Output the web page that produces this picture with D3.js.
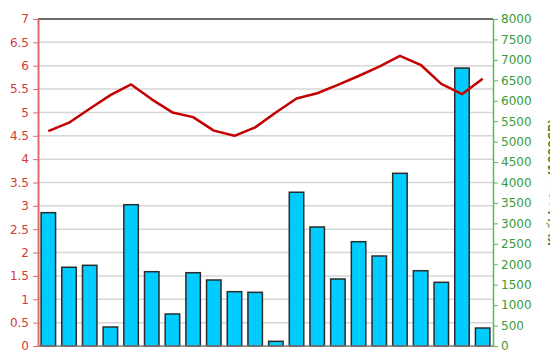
<!DOCTYPE html>
<html>
<head>
<meta charset="utf-8">
<script src="https://cdn.jsdelivr.net/npm/d3@7"></script>
<style>
    body { margin: 0; background: #fff; }
    svg { display: block; font-family: "DejaVu Sans", Verdana, sans-serif; }
</style>
</head>
<body>
<svg id="chart"></svg>
<script>
// session index (22 sessions, no x labels shown)
var sessions = d3.range(1, 23);

// price line (left axis)
var prices = [4.60, 4.78, 5.08, 5.37, 5.60, 5.28, 5.00, 4.90, 4.61, 4.50, 4.68,
              5.00, 5.30, 5.41, 5.59, 5.78, 5.98, 6.21, 6.02, 5.61, 5.39, 5.72];

// volume bars, 1000 shares (right axis)
var volumes = [3262, 1926, 1974, 465, 3457, 1818, 783, 1793, 1615, 1329, 1313,
               114, 3762, 2912, 1639, 2552, 2202, 4225, 1842, 1558, 6800, 440];

var leftTicks = d3.range(0, 7.01, 0.5);
var rightTicks = d3.range(0, 8001, 500);
var volTitle = "Khối lượng (1000CP)";

var W = 550, H = 364;
var margin = { top: 19, right: 57, bottom: 18, left: 38 };
var width = W - margin.left - margin.right;
var height = H - margin.top - margin.bottom;

var svg = d3.select("#chart").attr("width", W).attr("height", H);
var g = svg.append("g").attr("transform", "translate(" + margin.left + "," + margin.top + ")");

var xScale = d3.scaleBand().domain(sessions).range([0, width]).paddingInner(0.3).paddingOuter(0.15);
var yLeft = d3.scaleLinear().domain([0, 7]).range([height, 0]);
var yRight = d3.scaleLinear().domain([0, 8000]).range([height, 0]);

// gridlines
g.append("g")
    .selectAll("line")
    .data(leftTicks.slice(1, -1))
    .enter().append("line")
    .attr("x1", 0).attr("x2", width)
    .attr("y1", d => yLeft(d)).attr("y2", d => yLeft(d))
    .attr("stroke", "#d6d6d6").attr("stroke-width", 1.5);

// top border
g.append("line")
    .attr("x1", 0).attr("x2", width)
    .attr("y1", yLeft(7)).attr("y2", yLeft(7))
    .attr("stroke", "#6e6e6e").attr("stroke-width", 2);

// bars
g.selectAll(".bar")
    .data(volumes)
    .enter().append("rect")
    .attr("class", "bar")
    .attr("x", (d, i) => xScale(sessions[i]))
    .attr("y", d => yRight(d))
    .attr("width", xScale.bandwidth())
    .attr("height", d => height - yRight(d))
    .attr("fill", "#00ccff")
    .attr("stroke", "#2b2b2b")
    .attr("stroke-width", 1.5);

// bottom line
g.append("line")
    .attr("x1", 0).attr("x2", width)
    .attr("y1", height).attr("y2", height)
    .attr("stroke", "#7a7a7a").attr("stroke-width", 1.5);

// price line
var line = d3.line()
    .x((d, i) => xScale(sessions[i]) + xScale.bandwidth() / 2)
    .y(d => yLeft(d));

g.append("path")
    .attr("d", line(prices))
    .attr("fill", "none")
    .attr("stroke", "#c40000")
    .attr("stroke-width", 2.5)
    .attr("stroke-linejoin", "round");

// left axis
var leftAxis = g.append("g")
    .call(d3.axisLeft(yLeft).tickValues(leftTicks).tickSize(5).tickSizeOuter(0).tickPadding(4)
        .tickFormat(d => String(+d.toFixed(1))));
leftAxis.select(".domain").attr("stroke", "#e06a6a").attr("stroke-width", 2);
leftAxis.selectAll(".tick line").attr("stroke", "#e06a6a");
leftAxis.selectAll(".tick text").attr("fill", "#d13b3b").attr("font-size", 12)
    .attr("font-family", "DejaVu Sans, Verdana, sans-serif");

// right axis
var rightAxis = g.append("g")
    .attr("transform", "translate(" + width + ",0)")
    .call(d3.axisRight(yRight).tickValues(rightTicks).tickSize(5).tickSizeOuter(0).tickPadding(3)
        .tickFormat(d3.format("d")));
rightAxis.select(".domain").attr("stroke", "#5cb85c").attr("stroke-width", 1.5);
rightAxis.selectAll(".tick line").attr("stroke", "#5cb85c");
rightAxis.selectAll(".tick text").attr("fill", "#3a9a3a").attr("font-size", 12)
    .attr("font-family", "DejaVu Sans, Verdana, sans-serif");

// right axis title (runs off the edge like the source)
svg.append("text")
    .attr("transform", "translate(556," + (margin.top + height / 2) + ") rotate(-90)")
    .attr("text-anchor", "middle")
    .attr("fill", "#2e8b2e")
    .attr("font-size", 11)
    .attr("font-weight", "bold")
    .text(volTitle);
</script>
</body>
</html>
